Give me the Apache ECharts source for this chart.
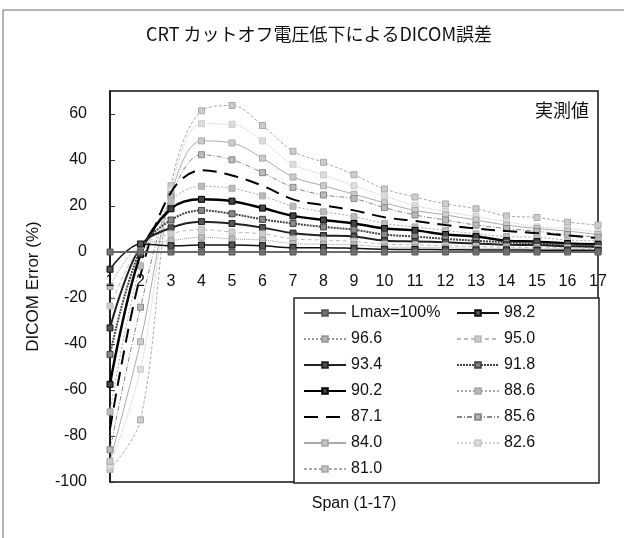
<!DOCTYPE html>
<html>
<head>
<meta charset="utf-8">
<script src="https://cdn.jsdelivr.net/npm/echarts@6/dist/echarts.min.js"></script>
<style>
  html, body { margin: 0; padding: 0; background: #fff; }
  #chart { width: 624px; height: 538px; }
</style>
</head>
<body>
<div id="chart"></div>
<script>
// Span positions along the horizontal axis
const spans = ['1','2','3','4','5','6','7','8','9','10','11','12','13','14','15','16','17'];

// Legend labels (Lmax ratio)
const seriesNames = ['Lmax=100%','98.2','96.6','95.0','93.4','91.8','90.2','88.6','87.1','85.6','84.0','82.6','81.0'];

// DICOM error (%) per span, one array per Lmax ratio
const lmax1000 = [0, 0, 0, 0, 0, 0, 0, 0, 0, 0, 0, 0, 0, 0, 0, 0, 0];
const lmax982  = [-7.5, 3.5, 2.7, 3.0, 3.0, 2.7, 1.9, 1.9, 1.6, 1.2, 1.1, 1.0, 0.9, 0.9, 0.8, 0.8, 0.7];
const lmax966  = [-15, 3, 4.9, 6.4, 5.7, 5.2, 3.7, 3.4, 3.1, 2.2, 2.0, 1.8, 1.6, 1.5, 1.4, 1.3, 1.2];
const lmax950  = [-23.5, 2, 7.9, 9.7, 8.7, 7.9, 5.7, 5.2, 4.6, 3.4, 3.1, 2.7, 2.4, 2.1, 1.9, 1.8, 1.6];
const lmax934  = [-33, 2.5, 10.5, 13.2, 12.4, 10.6, 8.2, 7.2, 6.7, 4.9, 4.6, 4.2, 3.7, 3.1, 3.0, 2.5, 2.2];
const lmax918  = [-44.5, 1, 13.9, 18.1, 16.6, 14.2, 12.4, 10.9, 9.7, 7.6, 6.7, 5.7, 4.9, 4.2, 3.7, 3.1, 2.7];
const lmax902  = [-57.5, -1, 18.8, 22.9, 22.1, 19.1, 15.7, 13.9, 12.4, 10.2, 9.4, 7.6, 6.7, 4.9, 4.5, 3.7, 3.4];
const lmax886  = [-69.5, -6, 22, 28.6, 27.7, 24.4, 19.9, 17.5, 15.4, 12.4, 10.9, 9.4, 7.9, 6.7, 6.4, 5.2, 4.9];
const lmax871  = [-77, -10, 26, 35.6, 33.3, 28.8, 22.9, 20.3, 18.1, 15.1, 13.5, 11.7, 10.2, 9.1, 8.2, 7.2, 6.0];
const lmax856  = [-86, -24, 24, 42.3, 40.1, 34.5, 28.1, 24.8, 23.2, 19.3, 16.1, 13.9, 11.7, 10.2, 9.0, 7.6, 6.4];
const lmax840  = [-91, -39, 25, 48.3, 47.4, 40.8, 32.6, 28.8, 25.1, 21.4, 18.1, 16.1, 13.9, 11.7, 10.2, 9.1, 7.6];
const lmax826  = [-93, -51, 27, 55.8, 55.5, 48.3, 38.1, 33.5, 28.8, 24.4, 20.2, 17.6, 15.4, 13.2, 10.9, 10.2, 8.7];
const lmax810  = [-94.5, -73, 28.8, 61.4, 63.7, 55.0, 43.8, 39.0, 33.6, 27.4, 23.9, 20.9, 18.8, 15.7, 15.0, 13.0, 11.7];

const seriesValues = [lmax1000, lmax982, lmax966, lmax950, lmax934, lmax918, lmax902,
                      lmax886, lmax871, lmax856, lmax840, lmax826, lmax810];

// Line / marker appearance for each series (grayscale print style)
const looks = [
  { color: '#555', width: 1.5, type: 'solid',  marker: true,  fill: '#777' },
  { color: '#111', width: 1.5, type: 'solid',  marker: true,  fill: '#555' },
  { color: '#999', width: 1,   type: 'dotted', marker: true,  fill: '#bbb' },
  { color: '#bbb', width: 1,   type: [4, 3],   marker: true,  fill: '#ccc' },
  { color: '#222', width: 2,   type: 'solid',  marker: true,  fill: '#555' },
  { color: '#444', width: 2,   type: [2, 1],   marker: true,  fill: '#888' },
  { color: '#000', width: 2.5, type: 'solid',  marker: true,  fill: '#444' },
  { color: '#aaa', width: 1,   type: [2, 2],   marker: true,  fill: '#bbb' },
  { color: '#000', width: 2,   type: [14, 8],  marker: false, fill: '#000' },
  { color: '#888', width: 1,   type: [5, 2, 1, 2], marker: true, fill: '#bbb' },
  { color: '#aaa', width: 1,   type: 'solid',  marker: true,  fill: '#ccc' },
  { color: '#ccc', width: 1,   type: 'dotted', marker: true,  fill: '#ddd' },
  { color: '#aaa', width: 1,   type: [3, 2],   marker: true,  fill: '#ccc' }
];

const baseFont = '"Liberation Sans", Arial, sans-serif';
const jpFont = '"Noto Sans CJK JP", "Noto Sans", sans-serif';

// plot box in pixels and the value range of the vertical axis
const plotTop = 91, plotBottom = 482;
const yMin = -100, yMax = 70;
// lift the horizontal axis so that it runs along the zero line
const zeroOffset = -((plotBottom - plotTop) * (0 - yMin) / (yMax - yMin));

const series = seriesNames.map((name, i) => ({
  name: name,
  type: 'line',
  data: seriesValues[i],
  smooth: 0.35,
  symbol: 'rect',
  symbolSize: 6,
  showSymbol: looks[i].marker,
  z: 20 - i,
  lineStyle: { color: looks[i].color, width: looks[i].width, type: looks[i].type },
  itemStyle: { color: looks[i].fill, borderColor: looks[i].color, borderWidth: 1 },
  emphasis: { disabled: true }
}));

// legend entries: the dashed series without markers shows only its line
const legendData = seriesNames.map((name, i) => looks[i].marker ? { name: name } : {
  name: name,
  itemStyle: { color: 'rgba(0,0,0,0)', borderColor: 'rgba(0,0,0,0)', borderWidth: 0 }
});

const chart = echarts.init(document.getElementById('chart'), null, { renderer: 'canvas' });
chart.setOption({
  animation: false,
  backgroundColor: '#fff',
  title: {
    text: 'CRT カットオフ電圧低下によるDICOM誤差',
    left: 146,
    top: 25,
    padding: 0,
    textStyle: { fontFamily: jpFont, fontSize: 18, fontWeight: 'normal', color: '#111' }
  },
  grid: {
    left: 110, right: 26, top: plotTop, bottom: 538 - plotBottom,
    outerBoundsMode: 'none',
    containLabel: false,
    show: true, borderColor: '#111', borderWidth: 1.5, backgroundColor: 'transparent'
  },
  legend: {
    data: legendData,
    left: 294, top: 298, width: 300,
    orient: 'horizontal',
    padding: [7, 0, 6, 9],
    itemGap: 10,
    itemWidth: 42, itemHeight: 7,
    borderColor: '#222', borderWidth: 1.5,
    backgroundColor: '#fff',
    z: 30,
    textStyle: { fontFamily: baseFont, fontSize: 16, color: '#111', width: 95, lineHeight: 15 }
  },
  xAxis: {
    type: 'category',
    data: spans,
    boundaryGap: false,
    offset: zeroOffset,
    z: 25,
    name: 'Span (1-17)',
    nameLocation: 'middle',
    nameGap: 244,
    nameTextStyle: { fontFamily: baseFont, fontSize: 16, color: '#111' },
    axisLine: { onZero: false, lineStyle: { color: '#666', width: 1.5 } },
    axisTick: { show: false },
    axisLabel: { margin: 22, interval: 0, showMinLabel: true, hideOverlap: false,
                 fontFamily: baseFont, fontSize: 16, color: '#111' },
    splitLine: { show: false }
  },
  yAxis: {
    type: 'value',
    min: yMin, max: yMax, interval: 20,
    name: 'DICOM Error (%)',
    nameLocation: 'middle',
    nameGap: 68,
    nameTextStyle: { fontFamily: baseFont, fontSize: 17, color: '#111' },
    axisLine: { show: true, lineStyle: { color: '#111', width: 1.5 } },
    axisTick: { show: true, inside: true, length: 5, lineStyle: { color: '#333' } },
    axisLabel: { margin: 23, showMaxLabel: false, fontFamily: baseFont, fontSize: 16, color: '#111' },
    splitLine: { show: false }
  },
  graphic: [
    // page frame along the top and left edges
    { type: 'polyline', silent: true, z: 100,
      shape: { points: [[3, 540], [3, 10], [626, 10]] },
      style: { stroke: '#666', lineWidth: 1, fill: null } },
    { type: 'text', right: 35, top: 101, z: 100,
      style: { text: '実測値', font: '18px ' + jpFont, fill: '#111' } }
  ],
  series: series
});
</script>
</body>
</html>
